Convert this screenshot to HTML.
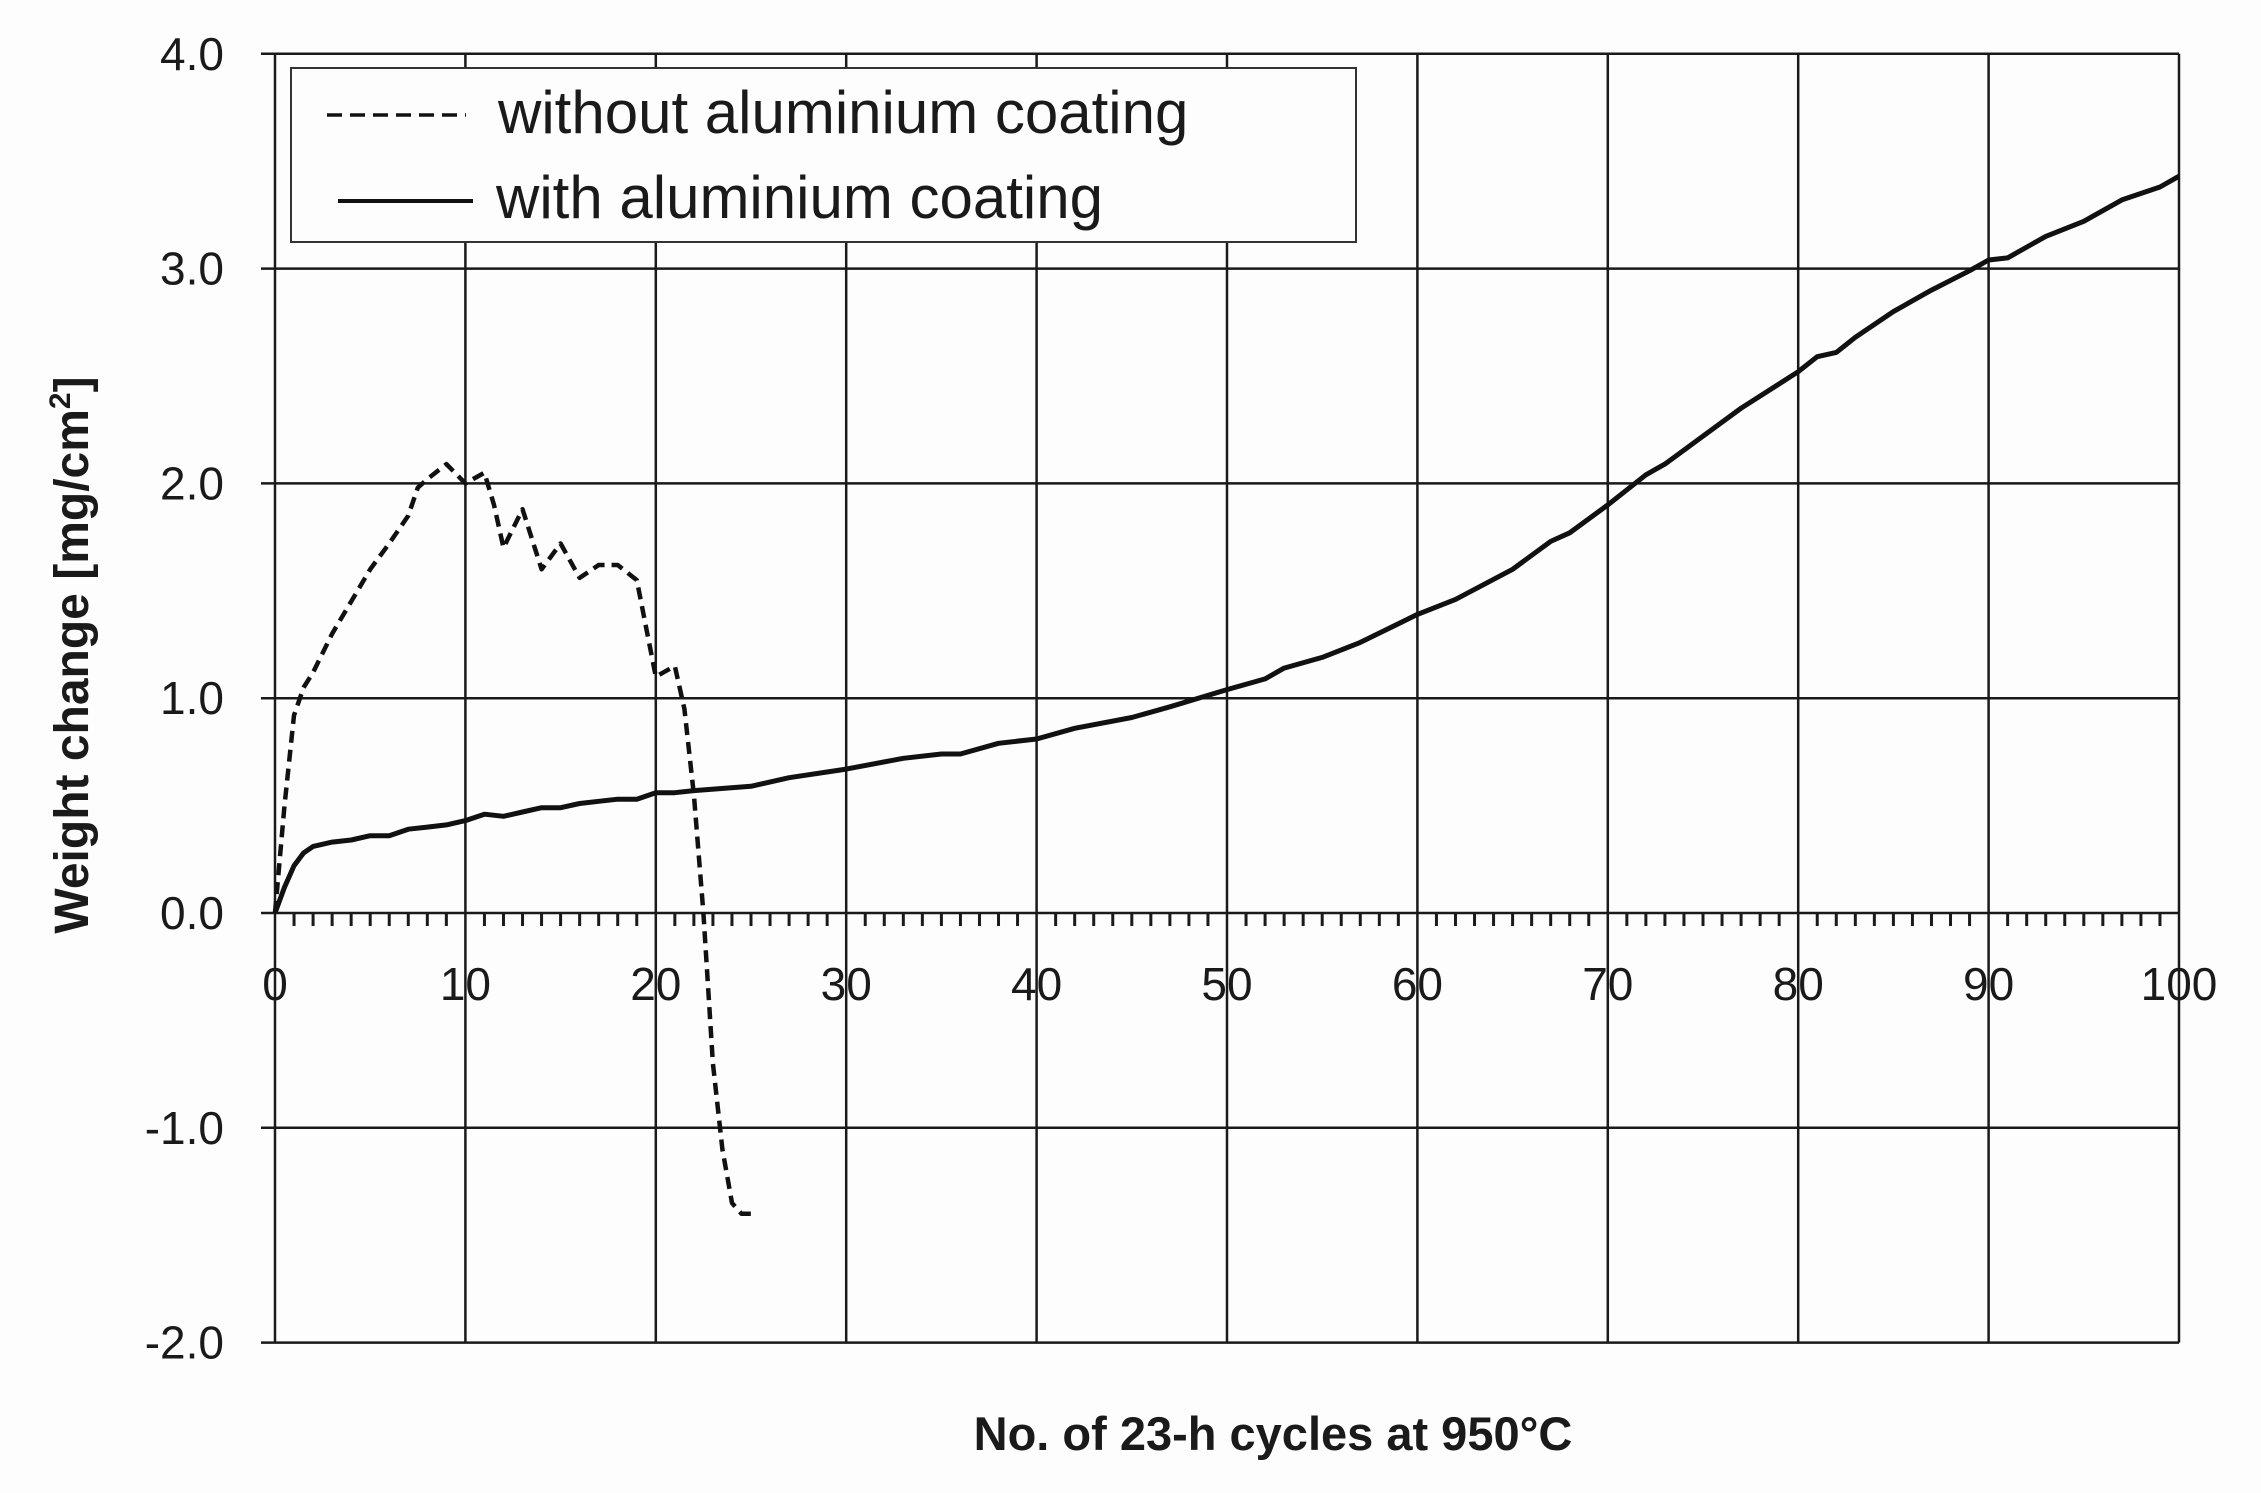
<!DOCTYPE html>
<html><head><meta charset="utf-8"><style>
html,body{margin:0;padding:0;background:#fefdfd;}
svg{display:block;}
text{font-family:"Liberation Sans",sans-serif;fill:#1a1a1a;}
</style></head><body>
<svg id="s" width="2261" height="1493" viewBox="0 0 2261 1493" xmlns="http://www.w3.org/2000/svg">
<rect width="2261" height="1493" fill="#fefdfd"/>
<g id="grid" stroke="#1a1a1a" stroke-width="2.5" fill="none"></g>
<g id="lbl"></g>
<path id="dash" fill="none" stroke="#111" stroke-width="4.5" stroke-dasharray="12,7" stroke-linejoin="round"/>
<path id="solid" fill="none" stroke="#111" stroke-width="5" stroke-linejoin="round"/>
<rect x="291" y="68" width="1065" height="174" fill="#fefdfd" stroke="#333" stroke-width="2"/>
<line x1="327" y1="115" x2="466" y2="115" stroke="#111" stroke-width="3.5" stroke-dasharray="15,8"/>
<line x1="338" y1="201" x2="473" y2="201" stroke="#111" stroke-width="4"/>
<text x="498" y="133" font-size="60">without aluminium coating</text>
<text x="496" y="218" font-size="60">with aluminium coating</text>
<text x="1273" y="1450" font-size="47" font-weight="bold" text-anchor="middle">No. of 23-h cycles at 950°C</text>
<text transform="translate(88,655) rotate(-90)" font-size="48" font-weight="bold" text-anchor="middle">Weight change [mg/cm<tspan font-size="30" dy="-18">2</tspan><tspan dy="18">]</tspan></text>
</svg>
<script>
var X=function(v){return 275+v*19.04;},Y=function(v){return 913-v*214.8;};
var g=document.getElementById('grid'),L=document.getElementById('lbl'),NS='http://www.w3.org/2000/svg';
function ln(a,b,c,d,w){var e=document.createElementNS(NS,'line');e.setAttribute('x1',a);e.setAttribute('y1',b);e.setAttribute('x2',c);e.setAttribute('y2',d);if(w)e.setAttribute('stroke-width',w);g.appendChild(e);}
function tx(x,y,s,a){var e=document.createElementNS(NS,'text');e.setAttribute('x',x);e.setAttribute('y',y);e.setAttribute('font-size',46);e.setAttribute('text-anchor',a);e.textContent=s;L.appendChild(e);}
for(var i=0;i<=10;i++){ln(X(i*10),Y(4),X(i*10),Y(-2));tx(X(i*10),1000,String(i*10),'middle');}
for(var j=-2;j<=4;j++){ln(X(0)-14,Y(j),X(100),Y(j));tx(224,Y(j)+16,j.toFixed(1),'end');}
for(var k=1;k<100;k++){if(k%10)ln(X(k),Y(0),X(k),Y(0)+13,3);}
var S=[[0,0],[0.5,0.12],[1,0.22],[1.5,0.28],[2,0.31],[3,0.33],[4,0.34],[5,0.36],[6,0.36],[7,0.39],[8,0.40],[9,0.41],[10,0.43],[11,0.46],[12,0.45],[13,0.47],[14,0.49],[15,0.49],[16,0.51],[17,0.52],[18,0.53],[19,0.53],[20,0.56],[21,0.56],[22,0.57],[25,0.59],[27,0.63],[30,0.67],[33,0.72],[35,0.74],[36,0.74],[38,0.79],[40,0.81],[42,0.86],[45,0.91],[47,0.96],[50,1.04],[52,1.09],[53,1.14],[55,1.19],[57,1.26],[60,1.39],[62,1.46],[65,1.60],[67,1.73],[68,1.77],[70,1.90],[72,2.04],[73,2.09],[75,2.22],[77,2.35],[80,2.52],[81,2.59],[82,2.61],[83,2.68],[85,2.80],[87,2.90],[89,2.99],[90,3.04],[91,3.05],[93,3.15],[95,3.22],[97,3.32],[99,3.38],[100,3.43]];
var D=[[0,0],[0.5,0.5],[1,0.92],[1.5,1.05],[2,1.12],[3,1.30],[4,1.45],[5,1.60],[6,1.72],[7,1.85],[7.5,1.98],[8,2.02],[9,2.09],[10,2.00],[11,2.05],[11.5,1.90],[12,1.70],[13,1.88],[14,1.60],[15,1.72],[16,1.56],[17,1.62],[18,1.62],[19,1.55],[20,1.10],[21,1.15],[21.5,0.95],[22,0.55],[22.5,0],[23,-0.7],[23.5,-1.1],[24,-1.35],[24.5,-1.40],[25,-1.40]];
function P(a){return a.map(function(p,i){return (i?'L':'M')+X(p[0]).toFixed(1)+','+Y(p[1]).toFixed(1);}).join('');}
document.getElementById('solid').setAttribute('d',P(S));
document.getElementById('dash').setAttribute('d',P(D));
</script>
</body></html>
